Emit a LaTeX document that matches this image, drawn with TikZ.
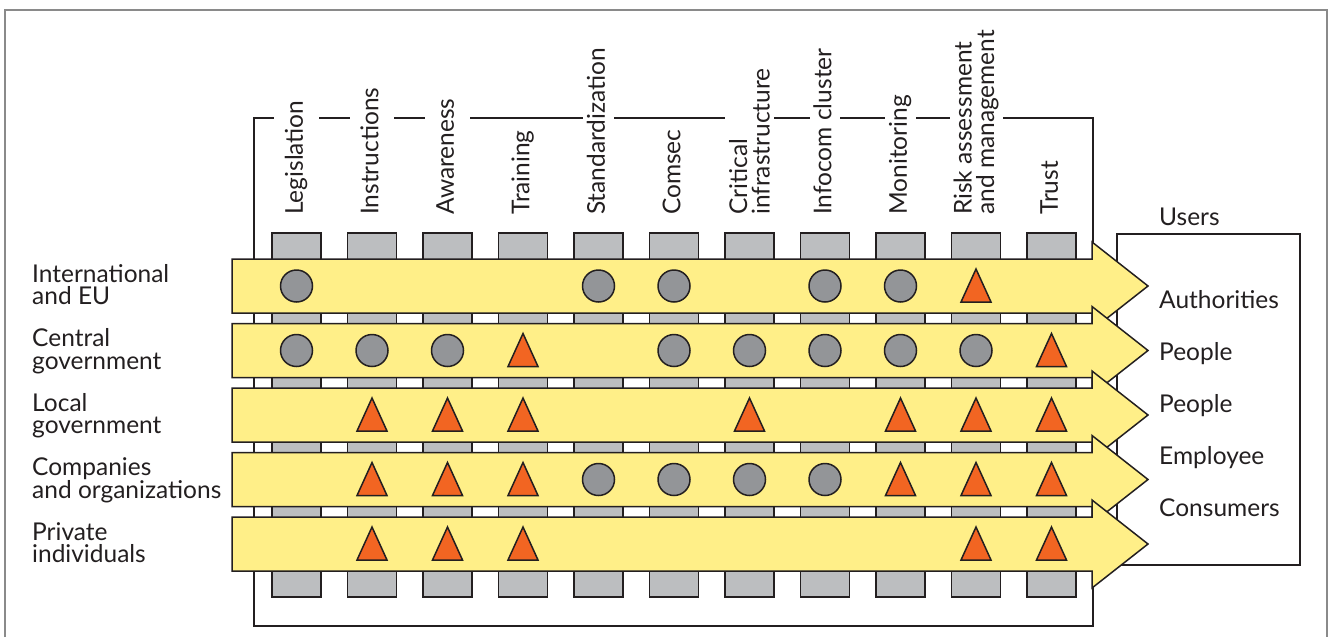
\documentclass[tikz,border=0pt]{standalone}
\usepackage{fontspec}
\setmainfont{Lato}
\usetikzlibrary{positioning,shapes.geometric}

\definecolor{ink}{HTML}{231F20}
\definecolor{framegray}{HTML}{8A8A8A}
\definecolor{bargray}{HTML}{BCBEC0}
\definecolor{bandyellow}{HTML}{FFEF88}
\definecolor{dotgray}{HTML}{939598}
\definecolor{triorange}{HTML}{F26522}

\begin{document}
\begin{tikzpicture}[x=1pt,y=-1pt,
every node/.style={font=\fontsize{24.5}{22.5}\selectfont,text=ink},
collabel/.style={rotate=90,anchor=west,fill=white,inner xsep=0pt,inner ysep=4pt,text height=17.5pt,text depth=5pt},
collabeltwo/.style={rotate=90,anchor=west,align=left,fill=white,inner xsep=0pt,inner ysep=4pt},
rowlabel/.style={anchor=north west,align=left,inner sep=0pt},
userlabel/.style={anchor=base west,inner sep=0pt},
colbar/.style={draw=ink,line width=1.3pt,fill=bargray},
band/.style={draw=ink,line width=1.5pt,fill=bandyellow,line join=miter},
dot/.style={circle,draw=ink,line width=1.5pt,fill=dotgray,minimum size=32pt,inner sep=0pt},
tri/.style={draw=ink,line width=1.5pt,fill=triorange,line join=miter},]
\useasboundingbox (0,0) rectangle (1329,637);

% outer frame
\draw[framegray,line width=1.5pt] (5,637) -- (5,10) -- (1327,10) -- (1327,637);

% frame round the columns
\draw[ink,line width=1.3pt] (254,118) rectangle (1093,626);

% columns
\foreach \k in {1,...,11}
    \draw[colbar] ({221+75.5*\k-24.5},233) rectangle ({221+75.5*\k+24.5},597);

% column labels
\foreach \k/\txt/\gap in {1/Legislation/11pt,2/Instructions/11pt,3/Awareness/11pt,4/Training/4pt,
                          5/Standardization/4pt,6/Comsec/4pt,8/Infocom cluster/4pt,9/Monitoring/4pt,11/Trust/4pt}
    \node[collabel,inner ysep=\gap] (lab\k) at ({221+75.5*\k},215) {\txt};
\foreach \k/\txt in {7/{Critical\\infrastructure},10/{Risk assessment\\and management}}
    \node[collabeltwo] (lab\k) at ({221+75.5*\k},215) {\txt};

% users
\draw[ink,line width=1.5pt] (1117,234) rectangle (1300,565);
\node[userlabel] (usershead) at (1159,225) {Users};
\foreach \i/\u in {1/Authorities,2/People,3/People,4/Employee,5/Consumers}
    \node[userlabel] (user\i) at (1159,{256+52*\i}) {\u};

% bands with marks
\foreach \r/\marks in {1/{1/c,5/c,6/c,8/c,9/c,10/t},
                       2/{1/c,2/c,3/c,4/t,6/c,7/c,8/c,9/c,10/c,11/t},
                       3/{2/t,3/t,4/t,7/t,9/t,10/t,11/t},
                       4/{2/t,3/t,4/t,5/c,6/c,7/c,8/c,9/t,10/t,11/t},
                       5/{2/t,3/t,4/t,10/t,11/t}} {
    \pgfmathsetmacro\cy{221.5+64.5*\r}
    \draw[band] (232,\cy-27) -- (1092,\cy-27) -- (1092,\cy-44) -- (1148,\cy)
        -- (1092,\cy+44) -- (1092,\cy+27) -- (232,\cy+27) -- cycle;
    \foreach \k/\m in \marks {
        \pgfmathsetmacro\cx{221+75.5*\k}
        \if\m c
            \node[dot] (m\r-\k) at (\cx,\cy) {};
        \else
            \draw[tri] (\cx,\cy-17) -- (\cx+15,\cy+16) -- (\cx-15,\cy+16) -- cycle;
        \fi
    }
}

% groups
\foreach \r/\txt in {1/{International\\and EU},2/{Central\\government},3/{Local\\government},
                     4/{Companies\\and organizations},5/{Private\\individuals}}
    \node[rowlabel] (grp\r) at (32,{221.5+64.5*\r-22}) {\txt};

\end{tikzpicture}
\end{document}
